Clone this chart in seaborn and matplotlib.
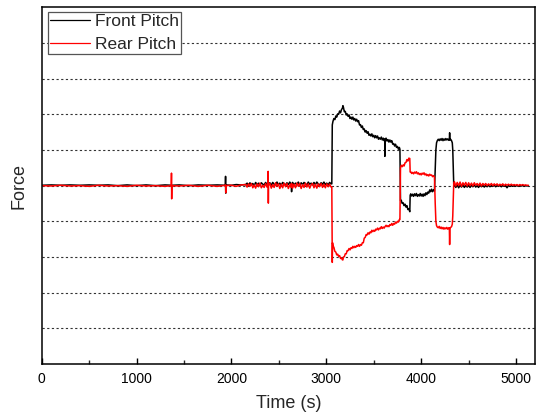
import matplotlib
matplotlib.use("Agg")
import matplotlib.pyplot as plt
from matplotlib.ticker import MultipleLocator
import seaborn as sns
import pandas as pd

# ---------------- data ----------------
# Quiet start, 0 - 2100 s
time_a = [0, 100, 200, 300, 400, 500, 600, 700, 800, 900, 1000, 1100, 1200, 1300,
          1366, 1368, 1370, 1372, 1450, 1550, 1650, 1750, 1850, 1936, 1938, 1940, 1942,
          2000, 2050, 2100]
front_a = [0.01, 0.02, 0.01, 0.02, 0.01, 0.02, 0.01, 0.02, 0.00, 0.02, 0.00, 0.02, 0.00, 0.02,
           0.01, 0.01, 0.01, 0.01, 0.02, 0.00, 0.02, 0.01, 0.02, 0.01, 0.26, -0.21, 0.02,
           0.01, 0.03, 0.02]
rear_a = [0.00, -0.01, 0.01, -0.01, 0.00, -0.02, 0.01, -0.01, 0.00, -0.02, 0.01, -0.01, 0.00, -0.02,
          0.00, 0.35, -0.37, 0.00, -0.01, 0.01, -0.02, 0.01, -0.02, 0.01, 0.02, -0.20, 0.00,
          0.01, -0.02, 0.02]

# Noisy baseline, 2150 - 3050 s
time_b = [2150, 2165, 2180, 2195, 2210, 2225, 2240, 2255, 2270, 2285, 2300, 2315, 2330, 2345, 2360, 2375,
          2385, 2387, 2389, 2391,
          2405, 2420, 2435, 2450, 2465, 2480, 2495, 2510, 2525, 2540, 2555, 2570, 2585, 2600, 2615,
          2630, 2632, 2634, 2636,
          2645, 2660, 2675, 2690, 2705, 2720, 2735, 2750, 2765, 2780, 2795, 2810, 2825, 2840,
          2855, 2870, 2885, 2900, 2915, 2930, 2945, 2960, 2975, 2990, 3005, 3020, 3035, 3050]
front_b = [0.03, 0.07, 0.01, 0.08, 0.02, 0.06, 0.00, 0.09, 0.03, 0.07, 0.01, 0.08, 0.04, 0.02, 0.09, 0.03,
           0.05, 0.04, 0.03, 0.05,
           0.08, 0.01, 0.09, 0.04, 0.02, 0.10, 0.03, 0.07, 0.01, 0.09, 0.05, 0.02, 0.08, 0.03, 0.10,
           0.04, 0.05, -0.17, 0.04,
           0.09, 0.02, 0.07, 0.04, 0.10, 0.01, 0.08, 0.03, 0.09, 0.05, 0.02, 0.10, 0.04, 0.07,
           0.02, 0.09, 0.03, 0.10, 0.05, 0.02, 0.08, 0.04, 0.10, 0.03, 0.07, 0.02, 0.09, 0.05]
rear_b = [0.03, -0.04, 0.05, -0.02, 0.06, -0.06, 0.02, -0.07, 0.05, -0.03, 0.07, -0.06, 0.01, -0.05, 0.06, -0.04,
          0.00, 0.40, -0.49, 0.00,
          0.06, -0.07, 0.03, -0.05, 0.08, -0.02, 0.05, -0.08, 0.04, -0.06, 0.07, -0.03, 0.06, -0.08, 0.02,
          -0.05, 0.06, -0.04, 0.05,
          -0.07, 0.04, -0.06, 0.07, -0.02, 0.06, -0.08, 0.03, -0.05, 0.07, -0.04, 0.05, -0.07, 0.02,
          0.06, -0.06, 0.04, -0.07, 0.05, -0.03, 0.06, -0.05, 0.04, -0.06, 0.05, -0.03, 0.04, -0.04]

# First loading phase, 3058 - 3776 s
time_c = [3058, 3063, 3066, 3070,
          3080, 3090, 3100, 3110, 3120, 3130, 3140, 3150, 3160, 3170, 3175,
          3180, 3190, 3200, 3210, 3220, 3230, 3240, 3250, 3260, 3270,
          3280, 3290, 3300, 3310, 3320, 3330, 3340, 3350, 3360, 3370,
          3380, 3390, 3400, 3410, 3420, 3430, 3440, 3450, 3460, 3470,
          3480, 3490, 3500, 3510, 3520, 3530, 3540, 3550, 3560, 3570,
          3580, 3590, 3600, 3610, 3616, 3617, 3618,
          3630, 3640, 3650, 3660, 3670, 3680, 3690, 3700, 3710, 3720,
          3730, 3740, 3750, 3760, 3770, 3776]
front_c = [0.05, 1.70, 1.74, 1.80,
           1.88, 1.85, 1.95, 1.92, 2.01, 2.00, 2.09, 2.04, 2.13, 2.17, 2.24,
           2.20, 2.07, 2.08, 1.98, 2.01, 1.94, 1.98, 1.88, 1.92, 1.86,
           1.92, 1.84, 1.88, 1.81, 1.86, 1.79, 1.82, 1.70, 1.71, 1.63,
           1.67, 1.57, 1.59, 1.50, 1.54, 1.47, 1.51, 1.41, 1.44, 1.39,
           1.45, 1.37, 1.41, 1.34, 1.40, 1.34, 1.39, 1.30, 1.34, 1.30,
           1.36, 1.28, 1.33, 1.26, 1.30, 0.82, 1.30,
           1.33, 1.25, 1.29, 1.22, 1.28, 1.22, 1.26, 1.16, 1.18, 1.11,
           1.16, 1.07, 1.10, 1.02, 1.07, 1.02]
rear_c = [-0.03, -2.15, -1.60, -1.68,
          -1.73, -1.84, -1.86, -1.94, -1.92, -1.98, -1.96, -2.04, -2.03, -2.08, -2.08,
          -2.00, -1.99, -1.91, -1.91, -1.82, -1.82, -1.76, -1.80, -1.74, -1.76,
          -1.70, -1.74, -1.70, -1.73, -1.68, -1.70, -1.65, -1.70, -1.65, -1.67,
          -1.60, -1.60, -1.47, -1.45, -1.37, -1.38, -1.32, -1.36, -1.30, -1.32,
          -1.25, -1.29, -1.25, -1.28, -1.22, -1.24, -1.19, -1.24, -1.19, -1.21,
          -1.15, -1.20, -1.16, -1.19, -1.16, -1.15, -1.15,
          -1.11, -1.15, -1.12, -1.15, -1.09, -1.11, -1.06, -1.11, -1.06, -1.08,
          -1.02, -1.05, -1.00, -1.02, -0.95, -0.95]

# Second phase, 3782 - 4170 s
time_d = [3782, 3790, 3800, 3810, 3820, 3830, 3840, 3850, 3860, 3870, 3880, 3884,
          3890, 3900, 3910, 3920, 3930, 3940, 3950, 3960, 3970, 3980, 3990, 4000, 4010,
          4020, 4030, 4040, 4050, 4060, 4070, 4080, 4090, 4100, 4110, 4120, 4130, 4140,
          4148, 4155, 4162, 4170]
front_d = [-0.42, -0.41, -0.50, -0.48, -0.56, -0.52, -0.60, -0.56, -0.67, -0.65, -0.73, -0.27,
           -0.23, -0.29, -0.24, -0.30, -0.23, -0.28, -0.22, -0.30, -0.25, -0.29, -0.22, -0.29, -0.24,
           -0.30, -0.23, -0.28, -0.20, -0.25, -0.18, -0.21, -0.12, -0.17, -0.10, -0.17, -0.12, -0.15,
           0.50, 1.00, 1.20, 1.26]
rear_d = [0.50, 0.57, 0.53, 0.58, 0.55, 0.64, 0.65, 0.73, 0.69, 0.77, 0.76, 0.38,
          0.39, 0.34, 0.37, 0.33, 0.38, 0.35, 0.39, 0.33, 0.36, 0.31, 0.34, 0.30, 0.35,
          0.32, 0.36, 0.30, 0.33, 0.28, 0.31, 0.27, 0.32, 0.29, 0.30, 0.25, 0.28, 0.24,
          -0.50, -1.00, -1.12, -1.16]

# Plateau, 4180 - 4343 s
time_e = [4180, 4190, 4200, 4210, 4220, 4230, 4240, 4250, 4260, 4270, 4280, 4290,
          4297, 4300, 4303, 4310, 4320, 4328, 4333, 4338, 4343]
front_e = [1.30, 1.26, 1.31, 1.27, 1.32, 1.26, 1.31, 1.27, 1.32, 1.28, 1.31, 1.27,
           1.29, 1.48, 1.28, 1.30, 1.26, 1.20, 1.00, 0.50, 0.05]
rear_e = [-1.18, -1.14, -1.20, -1.16, -1.21, -1.17, -1.22, -1.18, -1.21, -1.17, -1.22, -1.18,
          -1.19, -1.65, -1.20, -1.17, -1.15, -1.08, -0.85, -0.40, 0.05]

# Tail, 4350 - 5130 s
time_f = [4350, 4365, 4380, 4395, 4410, 4425, 4440, 4455, 4470, 4485,
          4500, 4515, 4530, 4545, 4560, 4575, 4590, 4605, 4620, 4635,
          4650, 4665, 4680, 4695, 4710, 4725, 4740, 4755, 4770, 4785,
          4800, 4815, 4830, 4845, 4860, 4875, 4890, 4905, 4920, 4935,
          4950, 4965, 4980, 4995, 5010, 5025, 5040, 5055, 5070, 5085,
          5100, 5115, 5130]
front_f = [0.03, -0.05, 0.02, -0.06, 0.01, -0.04, 0.03, -0.05, 0.00, -0.04,
           0.02, -0.05, 0.01, -0.03, 0.02, -0.04, 0.00, -0.05, 0.01, -0.03,
           0.01, -0.04, 0.00, -0.03, 0.01, -0.03, 0.00, -0.02, 0.01, -0.03,
           0.00, -0.02, 0.01, -0.03, 0.00, -0.02, 0.00, -0.06, 0.00, -0.02,
           0.00, -0.02, 0.00, -0.01, 0.00, -0.02, 0.00, -0.01, 0.00, -0.01,
           0.00, -0.01, 0.00]
rear_f = [0.11, -0.01, 0.09, 0.00, 0.10, -0.02, 0.08, 0.01, 0.09, -0.01,
          0.08, 0.00, 0.07, -0.01, 0.08, 0.01, 0.06, 0.00, 0.07, -0.01,
          0.06, 0.01, 0.06, 0.00, 0.05, 0.01, 0.06, 0.00, 0.05, 0.01,
          0.05, 0.00, 0.04, 0.01, 0.05, 0.00, 0.04, 0.01, 0.04, 0.01,
          0.04, 0.01, 0.03, 0.01, 0.03, 0.00, 0.03, 0.01, 0.03, 0.01,
          0.02, 0.01, 0.01]

series_names = ["Front Pitch", "Rear Pitch"]
series_colors = ["black", "red"]
x_ticks = [0, 1000, 2000, 3000, 4000, 5000]

# ---------------- build long-form table ----------------
time_all = time_a + time_b + time_c + time_d + time_e + time_f
front_all = front_a + front_b + front_c + front_d + front_e + front_f
rear_all = rear_a + rear_b + rear_c + rear_d + rear_e + rear_f

df = pd.DataFrame({
    "Time (s)": time_all * 2,
    "Force": front_all + rear_all,
    "Series": [series_names[0]] * len(time_all) + [series_names[1]] * len(time_all),
})

# ---------------- plot ----------------
sns.set_style("white")
plt.rcParams["font.family"] = ["Liberation Sans", "DejaVu Sans"]

fig = plt.figure(figsize=(5.43, 4.20), dpi=100)
ax = fig.add_axes([0.0768, 0.133, 0.9085, 0.850])

sns.lineplot(data=df, x="Time (s)", y="Force", hue="Series",
             palette=dict(zip(series_names, series_colors)),
             estimator=None, sort=False, linewidth=1.1, ax=ax)

ax.set_xlim(0, 5200)
ax.set_ylim(-5, 5)

for gy in [-4, -3, -2, -1, 0, 1, 2, 3, 4]:
    ax.axhline(gy, color="#333333", linestyle=(0, (2, 2.2)), linewidth=0.8, zorder=0)

ax.set_xticks(x_ticks)
ax.set_xticklabels([str(t) for t in x_ticks], fontsize=10)
ax.xaxis.set_minor_locator(MultipleLocator(500))
ax.set_yticks([])
ax.tick_params(axis="x", which="major", direction="in", length=4.5, width=1.0,
               bottom=True, top=False, pad=6, colors="black")
ax.tick_params(axis="x", which="minor", direction="in", length=3, width=1.0,
               bottom=True, top=False)

for sp in ax.spines.values():
    sp.set_visible(True)
    sp.set_color("black")
    sp.set_linewidth(1.1)

ax.set_xlabel("Time (s)", fontsize=13, labelpad=6)
ax.set_ylabel("Force", fontsize=13, labelpad=10)

handles, labels = ax.get_legend_handles_labels()
for h in handles:
    h.set_linewidth(0.9)
leg = ax.legend(handles, labels, loc="upper left", bbox_to_anchor=(0.013, 0.986),
                fontsize=12.5, frameon=True, fancybox=False, edgecolor="#555555",
                framealpha=1, handlelength=2.3, handletextpad=0.3, borderpad=0.1,
                labelspacing=0.45, borderaxespad=0.0)
leg.get_frame().set_linewidth(0.9)

fig.savefig("out.png", dpi=100)
